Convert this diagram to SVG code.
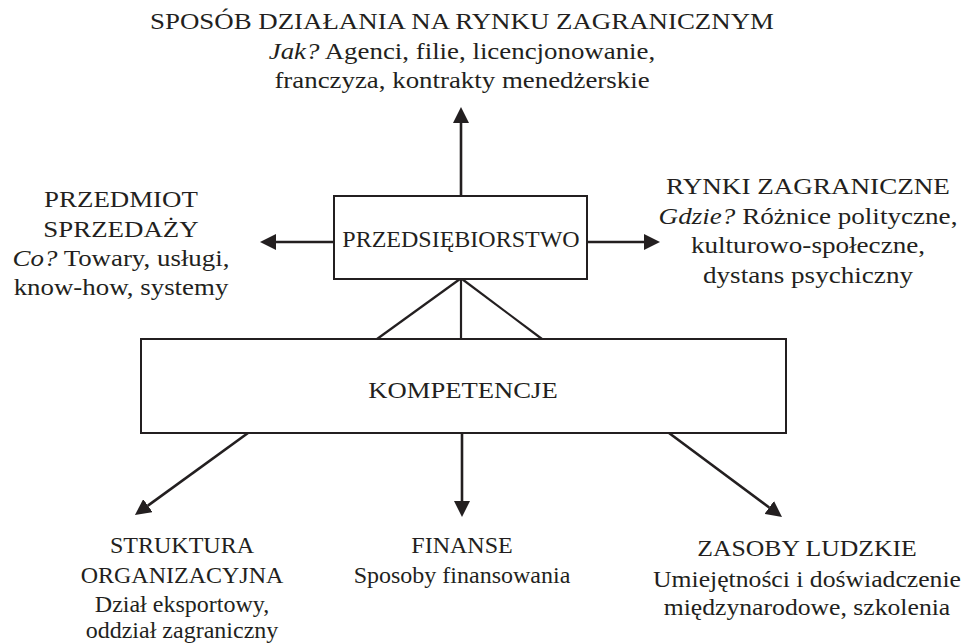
<svg xmlns="http://www.w3.org/2000/svg" width="966" height="643" viewBox="0 0 966 643">
  <style>
    text { font-family: "Liberation Serif", "Times New Roman", serif; font-size: 24px; fill: #231f20; text-anchor: middle; }
    .i { font-style: italic; }
    .box { fill: #ffffff; stroke: #231f20; stroke-width: 2; }
    .link { stroke: #231f20; stroke-width: 2.2; fill: none; }
    .arrow { stroke: #231f20; stroke-width: 2.6; fill: none; marker-end: url(#head); }
  </style>
  <defs>
    <marker id="head" markerUnits="userSpaceOnUse" markerWidth="16" markerHeight="16" refX="0" refY="8" orient="auto" viewBox="0 0 16 16">
      <path d="M0,0 L16,8 L0,16 Z" fill="#231f20"/>
    </marker>
  </defs>

  <rect width="966" height="643" fill="#ffffff"/>

  <!-- connectors -->
  <g id="connectors">
    <line class="arrow" x1="461" y1="196" x2="461" y2="123"/>
    <line class="arrow" x1="334" y1="242" x2="276" y2="242"/>
    <line class="arrow" x1="587" y1="242" x2="644" y2="242"/>
    <line class="link" x1="460" y1="279" x2="377" y2="339"/>
    <line class="link" x1="461" y1="279" x2="461" y2="339"/>
    <line class="link" x1="462" y1="279" x2="542" y2="339"/>
    <line class="arrow" x1="248" y1="433" x2="147.9" y2="505.6"/>
    <line class="arrow" x1="462" y1="433" x2="462" y2="501"/>
    <line class="arrow" x1="669" y1="433" x2="769.2" y2="507.5"/>
  </g>

  <!-- central company box -->
  <g id="przedsiebiorstwo">
    <rect class="box" x="334" y="196" width="253" height="83"/>
    <text x="461" y="247">PRZEDSIĘBIORSTWO</text>
  </g>

  <!-- competences box; label set slightly wide -->
  <g id="kompetencje">
    <rect class="box" x="141" y="339" width="645" height="94"/>
    <text x="463" y="398" transform="matrix(1.11 0 0 1 -50.93 0)">KOMPETENCJE</text>
  </g>

  <!-- wide labels: horizontal scale about each block's centre line -->
  <g id="sposob" transform="matrix(1.12 0 0 1 -55.44 0)">
    <text x="462" y="29">SPOSÓB DZIAŁANIA NA RYNKU ZAGRANICZNYM</text>
    <text x="462" y="59"><tspan class="i">Jak?</tspan> Agenci, filie, licencjonowanie,</text>
    <text x="462" y="88">franczyza, kontrakty menedżerskie</text>
  </g>

  <g id="przedmiot" transform="matrix(1.12 0 0 1 -14.52 0)">
    <text x="121" y="207">PRZEDMIOT</text>
    <text x="121" y="237">SPRZEDAŻY</text>
    <text x="121" y="266"><tspan class="i">Co?</tspan> Towary, usługi,</text>
    <text x="121" y="295">know-how, systemy</text>
  </g>

  <g id="rynki" transform="matrix(1.13 0 0 1 -105.04 0)">
    <text x="808" y="194">RYNKI ZAGRANICZNE</text>
    <text x="808" y="224"><tspan class="i">Gdzie?</tspan> Różnice polityczne,</text>
    <text x="808" y="253">kulturowo-społeczne,</text>
    <text x="808" y="283">dystans psychiczny</text>
  </g>

  <g id="struktura">
    <text x="182" y="553">STRUKTURA</text>
    <text x="182" y="583">ORGANIZACYJNA</text>
    <text x="182" y="612">Dział eksportowy,</text>
    <text x="182" y="638">oddział zagraniczny</text>
  </g>

  <g id="finanse">
    <text x="462" y="553">FINANSE</text>
    <text x="462" y="583">Sposoby finansowania</text>
  </g>

  <g id="zasoby" transform="matrix(1.07 0 0 1 -56.49 0)">
    <text x="807" y="556">ZASOBY LUDZKIE</text>
    <text x="807" y="587">Umiejętności i doświadczenie</text>
    <text x="807" y="615">międzynarodowe, szkolenia</text>
  </g>
</svg>
